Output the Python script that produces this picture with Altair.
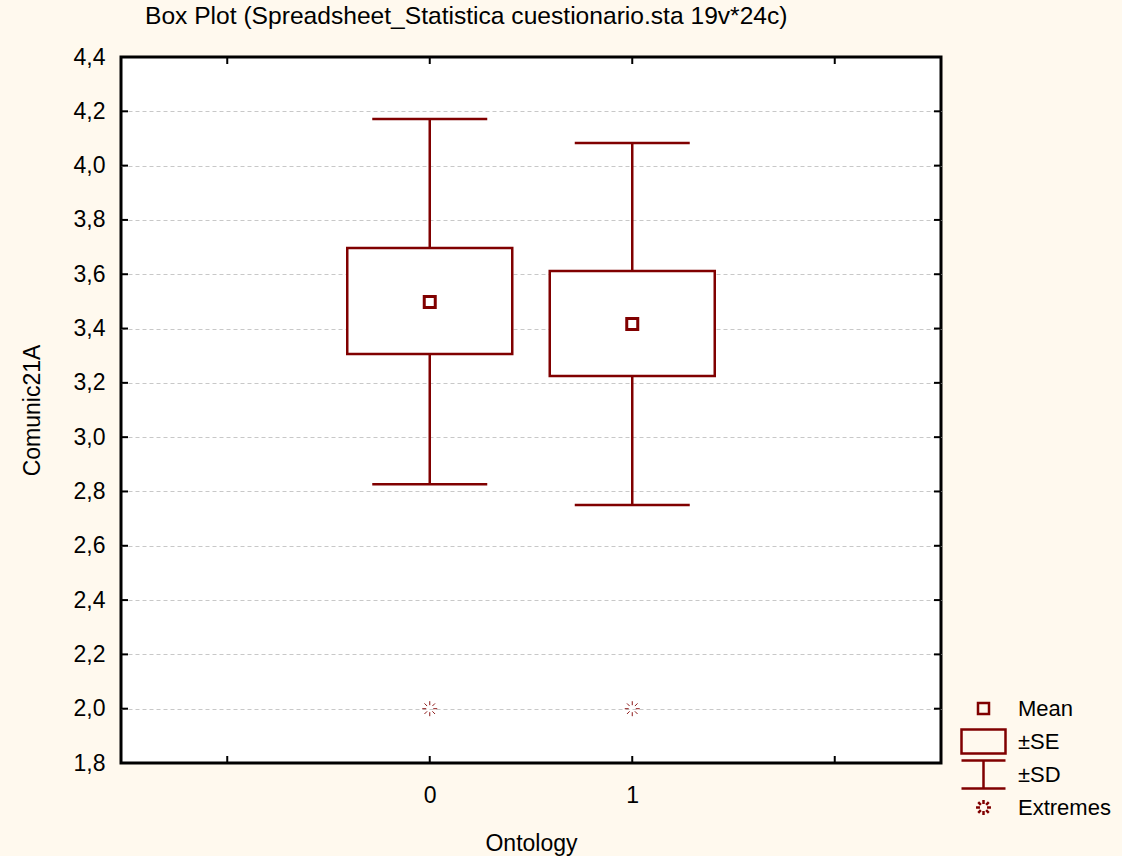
import altair as alt
import pandas as pd

# ---- data ----
groups = [0, 1]
means = [3.498, 3.417]
se_low = [3.306, 3.225]
se_high = [3.697, 3.612]
sd_low = [2.827, 2.750]
sd_high = [4.172, 4.083]
extremes = [2.0, 2.0]

y_ticks = [1.8, 2.0, 2.2, 2.4, 2.6, 2.8, 3.0, 3.2, 3.4, 3.6, 3.8, 4.0, 4.2, 4.4]
x_ticks = [-1, 0, 1, 2]
legend_labels = ["Mean", "±SE", "±SD", "Extremes"]
legend_widths = [2.5, 2.5, 2.5, 1.0]

DARK = "#800000"
BG = "#FFF9EE"
FONT = "Liberation Sans"

df = pd.DataFrame({
    "g": groups, "mean": means, "se_lo": se_low, "se_hi": se_high,
    "sd_lo": sd_low, "sd_hi": sd_high, "ext": extremes,
})
yt = pd.DataFrame({"v": y_ticks})
xt = pd.DataFrame({"v": x_ticks})
leg = pd.DataFrame({"kind": legend_labels})

burst = ("M0,-0.34V-0.16M0,0.16V0.34M-0.34,0H-0.16M0.16,0H0.34"
         "M-0.24,-0.24L-0.12,-0.12M0.12,0.12L0.24,0.24M0.24,-0.24L0.12,-0.12M-0.12,0.12L-0.24,0.24")
paths = [
    "M-0.25,-0.25H0.25V0.25H-0.25Z",
    "M-1,-0.55H1V0.55H-1Z",
    "M-1,-0.64H1M0,-0.64V0.64M-1,0.64H1",
    burst,
]

xscale = alt.Scale(domain=[-1.5, 2.5], nice=False, zero=False)
yscale = alt.Scale(domain=[1.8, 4.4], nice=False, zero=False)

X = alt.X("g:Q", scale=xscale, title="Ontology",
          axis=alt.Axis(values=[0, 1], grid=False, ticks=False, domain=False,
                        labelExpr="datum.value == 0 ? '0' : (datum.value == 1 ? '1' : '')",
                        labelPadding=21, titlePadding=25))
Y = alt.Y("mean:Q", scale=yscale, title="Comunic21A",
          axis=alt.Axis(values=y_ticks, format=".1f", labelExpr="replace(datum.label, '.', ',')",
                        grid=True,
                        gridColor=alt.condition("datum.value < 1.85 || datum.value > 4.35",
                                                alt.value("transparent"), alt.value("#C8C8C8")),
                        gridDash=[4, 3], gridWidth=1,
                        ticks=False, domain=False, labelPadding=16, titlePadding=29))

base = alt.Chart(df)

whisk_lo = base.mark_rule(color=DARK, strokeWidth=2.5, opacity=1).encode(
    x=X, y=alt.Y("sd_lo:Q", scale=yscale), y2="se_lo:Q")
whisk_hi = base.mark_rule(color=DARK, strokeWidth=2.5, opacity=1).encode(
    x=alt.X("g:Q", scale=xscale), y=alt.Y("se_hi:Q", scale=yscale), y2="sd_hi:Q")
cap_lo = base.mark_tick(color=DARK, orient="horizontal", size=115, thickness=2.5, opacity=1).encode(
    x=alt.X("g:Q", scale=xscale), y=alt.Y("sd_lo:Q", scale=yscale))
cap_hi = base.mark_tick(color=DARK, orient="horizontal", size=115, thickness=2.5, opacity=1).encode(
    x=alt.X("g:Q", scale=xscale), y=alt.Y("sd_hi:Q", scale=yscale))
box = base.mark_bar(size=165, fill="white", stroke=DARK, strokeWidth=2.5, opacity=1).encode(
    x=alt.X("g:Q", scale=xscale), y=alt.Y("se_lo:Q", scale=yscale), y2="se_hi:Q")
mean_pt = base.mark_point(shape="square", filled=False, size=121, color=DARK,
                          strokeWidth=3, opacity=1).encode(
    x=alt.X("g:Q", scale=xscale), y=Y)
ext_pt = base.mark_point(shape=burst, filled=False, size=1936, color=DARK,
                         strokeWidth=1.0, opacity=0.9).encode(
    x=alt.X("g:Q", scale=xscale), y=alt.Y("ext:Q", scale=yscale))

# inward ticks drawn on the frame
yt_left = alt.Chart(yt).mark_rule(color="black", strokeWidth=2).encode(
    y=alt.Y("v:Q", scale=yscale), x=alt.value(0), x2=alt.value(7))
yt_right = alt.Chart(yt).mark_rule(color="black", strokeWidth=2).encode(
    y=alt.Y("v:Q", scale=yscale), x=alt.value(813), x2=alt.value(820))
xt_top = alt.Chart(xt).mark_rule(color="black", strokeWidth=2).encode(
    x=alt.X("v:Q", scale=xscale), y=alt.value(0), y2=alt.value(7))
xt_bot = alt.Chart(xt).mark_rule(color="black", strokeWidth=2).encode(
    x=alt.X("v:Q", scale=xscale), y=alt.value(699), y2=alt.value(706))

lg = alt.Legend(title=None, orient="none", legendX=839, legendY=635,
                symbolSize=1936, symbolStrokeColor=DARK, symbolFillColor="transparent",
                symbolOpacity=1, clipHeight=33, rowPadding=0,
                labelOffset=11, labelFontSize=22, labelFont=FONT,
                labelColor="black", padding=0, offset=0)
legend_layer = alt.Chart(leg).mark_point(clip=True, filled=False, color=DARK,
                                         opacity=1).encode(
    x=alt.value(-100), y=alt.value(-100),
    shape=alt.Shape("kind:N", scale=alt.Scale(domain=legend_labels, range=paths), legend=lg),
    strokeWidth=alt.StrokeWidth("kind:N", scale=alt.Scale(domain=legend_labels, range=legend_widths),
                                legend=lg),
)

chart = alt.layer(
    whisk_lo, whisk_hi, cap_lo, cap_hi, box, mean_pt, ext_pt,
    yt_left, yt_right, xt_top, xt_bot, legend_layer,
).properties(
    width=820, height=706,
    title=alt.TitleParams("Box Plot (Spreadsheet_Statistica cuestionario.sta 19v*24c)",
                          anchor="start", frame="group", dx=24, fontSize=24.6, font=FONT,
                          fontWeight="normal", color="black", offset=16),
    background=BG,
    padding={"left": 121, "top": 57, "right": 181, "bottom": 93},
    autosize=alt.AutoSizeParams(type="none"),
).configure_view(
    fill="white", stroke="black", strokeWidth=3,
).configure_axis(
    labelFont=FONT, titleFont=FONT, labelFontSize=23, titleFontSize=23,
    labelColor="black", titleColor="black", titleFontWeight="normal",
)

chart.save("out.html", embed_options={"renderer": "svg", "actions": False})
